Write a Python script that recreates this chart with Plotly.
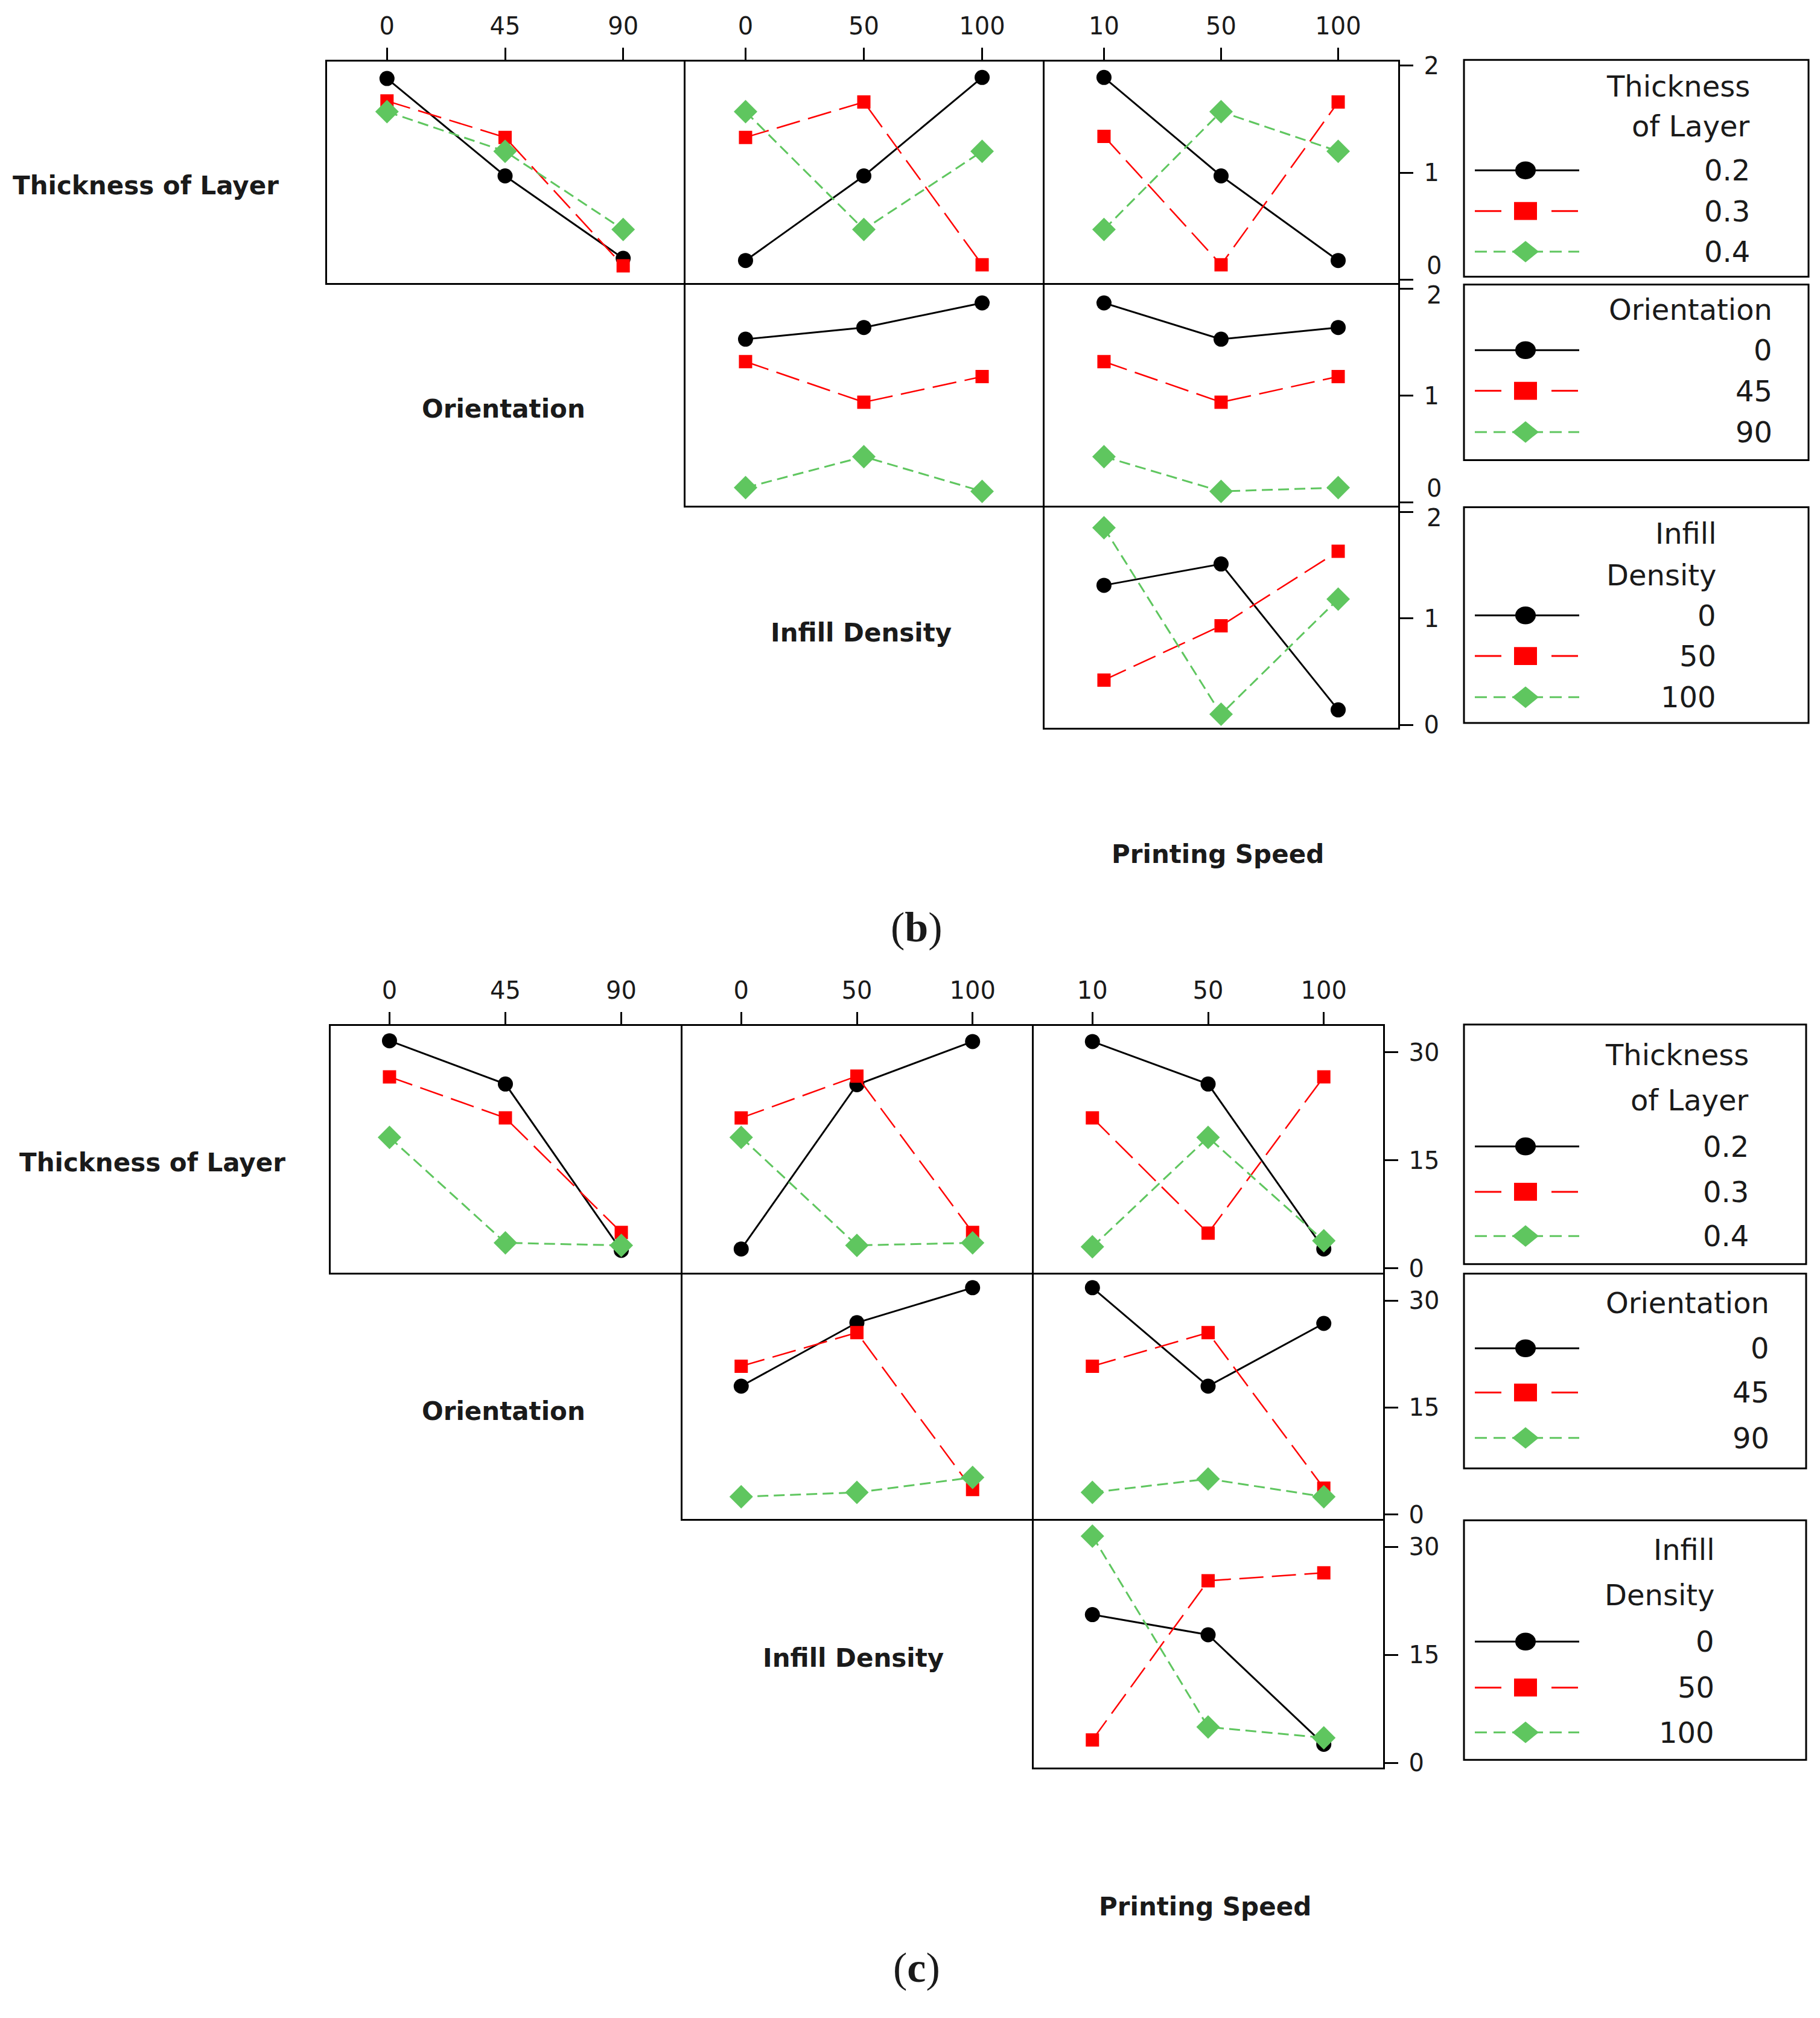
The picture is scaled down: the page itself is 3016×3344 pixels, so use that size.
import plotly.graph_objects as go

PAGE_W, PAGE_H = 3016, 3344
OFF = 8  # default body margin of the html page
W, H = PAGE_W - OFF, PAGE_H - OFF

# ---------------- factor levels (categories / tick labels) ----------------
orientation_levels = ["0", "45", "90"]
infill_levels = ["0", "50", "100"]
speed_levels = ["10", "50", "100"]
thickness_levels = ["0.2", "0.3", "0.4"]

# ---------------- (b) interaction means: one row per line-factor level ----------------
b_thk_by_orient = [[1.88, 0.97, 0.20], [1.67, 1.33, 0.13], [1.57, 1.20, 0.47]]
b_thk_by_infill = [[0.18, 0.97, 1.89], [1.33, 1.66, 0.14], [1.57, 0.47, 1.20]]
b_thk_by_speed = [[1.89, 0.97, 0.18], [1.34, 0.14, 1.66], [0.47, 1.57, 1.20]]
b_ori_by_infill = [[1.53, 1.64, 1.87], [1.32, 0.94, 1.18], [0.14, 0.43, 0.105]]
b_ori_by_speed = [[1.87, 1.53, 1.64], [1.32, 0.94, 1.18], [0.43, 0.105, 0.14]]
b_inf_by_speed = [[1.31, 1.51, 0.14], [0.42, 0.93, 1.63], [1.85, 0.10, 1.18]]
b_y_ticks = [0, 1, 2]

# ---------------- (c) interaction means ----------------
c_thk_by_orient = [[31.6, 25.6, 2.5], [26.6, 20.9, 5.0], [18.2, 3.55, 3.2]]
c_thk_by_infill = [[2.7, 25.5, 31.5], [20.9, 26.7, 5.0], [18.2, 3.2, 3.55]]
c_thk_by_speed = [[31.5, 25.6, 2.7], [20.9, 4.9, 26.6], [3.0, 18.2, 3.85]]
c_ori_by_infill = [[18.0, 26.9, 31.8], [20.8, 25.5, 3.5], [2.5, 3.1, 5.2]]
c_ori_by_speed = [[31.8, 18.0, 26.8], [20.8, 25.5, 3.7], [3.1, 5.0, 2.5]]
c_inf_by_speed = [[20.6, 17.8, 2.6], [3.2, 25.3, 26.4], [31.5, 5.0, 3.5]]
c_y_ticks = [0, 15, 30]

# ---------------- styles ----------------
FONT = "DejaVu Sans"
TXT = "#1a1a1a"
TICK_SIZE = 40
LW = 3
series_colors = ["#000000", "#FF0000", "#5FC65F"]
series_symbols = ["circle", "square", "diamond"]
series_dash = ["solid", "40px,14px", "18px,9px"]
series_width = [3, 2.5, 3]
series_msize = [25, 22, 30]


def px_x(x):
    return (x - OFF) / W


def px_y(y):
    return 1 - (y - OFF) / H


fig = go.Figure()
layout = {}
annotations = []
shapes = []
counter = [0]


def add_panel(xpx, ypx, levels_x, values, yrange, ytickvals, top_ticks, right_ticks,
              moved_labels=None):
    """moved_labels: dict tick value -> vertical pixel shift for crowded tick labels."""
    counter[0] += 1
    i = counter[0]
    xr, yr = f"x{i}", f"y{i}"
    for k, vals in enumerate(values):
        fig.add_trace(go.Scatter(
            x=levels_x, y=vals, xaxis=xr, yaxis=yr, mode="lines+markers",
            line=dict(color=series_colors[k], width=series_width[k], dash=series_dash[k]),
            marker=dict(color=series_colors[k], symbol=series_symbols[k], size=series_msize[k],
                        line=dict(width=0)),
            showlegend=False, hoverinfo="skip"))
    h = LW / 2.0
    layout[f"xaxis{i}"] = dict(
        domain=[px_x(xpx[0] + h), px_x(xpx[1] - h)], anchor=yr, type="category",
        categoryorder="array", categoryarray=levels_x,
        range=[-0.51, 2.51], showline=True, mirror=True, linecolor="black", linewidth=LW,
        showgrid=False, zeroline=False, side="top",
        ticks="outside" if top_ticks else "", ticklen=20, tickwidth=3, tickcolor="black",
        showticklabels=top_ticks, tickfont=dict(family=FONT, size=TICK_SIZE, color=TXT),
        ticklabelstandoff=6, fixedrange=True)
    moved_labels = moved_labels or {}
    ticktext = ["" if v in moved_labels else str(v) for v in ytickvals]
    layout[f"yaxis{i}"] = dict(
        domain=[px_y(ypx[1] - h), px_y(ypx[0] + h)], anchor=xr, range=yrange,
        showline=True, mirror=True, linecolor="black", linewidth=LW,
        showgrid=False, zeroline=False, side="right",
        ticks="outside" if right_ticks else "", ticklen=22, tickwidth=3, tickcolor="black",
        tickvals=ytickvals, ticktext=ticktext,
        showticklabels=right_ticks, tickfont=dict(family=FONT, size=TICK_SIZE, color=TXT),
        ticklabelstandoff=10, fixedrange=True)
    for v, shift in moved_labels.items():
        annotations.append(dict(text=str(v), xref="paper", yref=yr,
                                x=px_x(xpx[1] + 44), y=v, xanchor="left",
                                yanchor="middle", yshift=shift, showarrow=False,
                                font=dict(family=FONT, size=TICK_SIZE, color=TXT)))


def add_label(text, x, y, size=42, bold=True, family=FONT):
    annotations.append(dict(text=f"<b>{text}</b>" if bold else text, xref="paper", yref="paper",
                            x=px_x(x), y=px_y(y), xanchor="center", yanchor="middle",
                            showarrow=False, font=dict(family=family, size=size, color=TXT)))


def add_legend(box, title_lines, title_ys, labels, label_ys, right_x):
    x0, y0, x1, y1 = box
    shapes.append(dict(type="rect", xref="paper", yref="paper", x0=px_x(x0), x1=px_x(x1),
                       y0=px_y(y1), y1=px_y(y0), line=dict(color="black", width=3)))
    for t, ty in zip(title_lines, title_ys):
        annotations.append(dict(text=t, xref="paper", yref="paper", x=px_x(right_x), y=px_y(ty),
                                xanchor="right", yanchor="middle", showarrow=False,
                                font=dict(family=FONT, size=48, color=TXT)))
    lx0, lx1, mc = 2444, 2617, 2528
    for k, (lab, ly) in enumerate(zip(labels, label_ys)):
        annotations.append(dict(text=lab, xref="paper", yref="paper", x=px_x(right_x), y=px_y(ly),
                                xanchor="right", yanchor="middle", showarrow=False,
                                font=dict(family=FONT, size=48, color=TXT)))
        col = series_colors[k]
        if k == 0:
            shapes.append(dict(type="line", xref="paper", yref="paper", x0=px_x(lx0), x1=px_x(lx1),
                               y0=px_y(ly), y1=px_y(ly), line=dict(color=col, width=3)))
            shapes.append(dict(type="circle", xref="paper", yref="paper", x0=px_x(mc - 17),
                               x1=px_x(mc + 17), y0=px_y(ly + 15), y1=px_y(ly - 15),
                               fillcolor=col, line=dict(width=0)))
        elif k == 1:
            for a, b in [(lx0, lx0 + 44), (lx1 - 46, lx1 - 2)]:
                shapes.append(dict(type="line", xref="paper", yref="paper", x0=px_x(a), x1=px_x(b),
                                   y0=px_y(ly), y1=px_y(ly), line=dict(color=col, width=3)))
            shapes.append(dict(type="rect", xref="paper", yref="paper", x0=px_x(mc - 19),
                               x1=px_x(mc + 19), y0=px_y(ly + 15), y1=px_y(ly - 15),
                               fillcolor=col, line=dict(width=0)))
        else:
            shapes.append(dict(type="line", xref="paper", yref="paper", x0=px_x(lx0), x1=px_x(lx1),
                               y0=px_y(ly), y1=px_y(ly), line=dict(color=col, width=3, dash="20px,11px")))
            hw, hh = 22, 18
            path = (f"M {px_x(mc - hw)},{px_y(ly)} L {px_x(mc)},{px_y(ly - hh)} "
                    f"L {px_x(mc + hw)},{px_y(ly)} L {px_x(mc)},{px_y(ly + hh)} Z")
            shapes.append(dict(type="path", xref="paper", yref="paper", path=path,
                               fillcolor=col, line=dict(width=0)))


# ---------------- figure (b) ----------------
bc = [(540, 1134), (1134, 1729), (1729, 2318)]
br = [(85, 459), (459, 832), (832, 1204)]
byr = [-0.03, 2.04]
add_panel(bc[0], br[0], orientation_levels, b_thk_by_orient, byr, b_y_ticks, True, False)
add_panel(bc[1], br[0], infill_levels, b_thk_by_infill, byr, b_y_ticks, True, False)
add_panel(bc[2], br[0], speed_levels, b_thk_by_speed, byr, b_y_ticks, True, True,
          moved_labels={0: 24})
add_panel(bc[1], br[1], infill_levels, b_ori_by_infill, byr, b_y_ticks, False, False)
add_panel(bc[2], br[1], speed_levels, b_ori_by_speed, byr, b_y_ticks, False, True,
          moved_labels={0: 24, 2: -10})
add_panel(bc[2], br[2], speed_levels, b_inf_by_speed, byr, b_y_ticks, False, True,
          moved_labels={2: -10})

add_label("Thickness of Layer", 241, 294)
add_label("Orientation", 834, 668)
add_label("Infill Density", 1427, 1043)
add_label("Printing Speed", 2018, 1414)
add_label("(<b>b</b>)", 1519, 1536, size=70, bold=False, family="Liberation Serif")

add_legend((2426, 84, 2997, 447), ["Thickness", "of Layer"], [128, 195],
           thickness_levels, [269, 337, 405], 2902)
add_legend((2426, 460, 2997, 754), ["Orientation"], [502],
           orientation_levels, [570, 638, 707], 2939)
add_legend((2426, 833, 2997, 1194), ["Infill", "Density"], [877, 947],
           infill_levels, [1014, 1082, 1151], 2846)

# ---------------- figure (c) ----------------
cc = [(546, 1129), (1129, 1711), (1711, 2293)]
cr = [(1700, 2116), (2116, 2528), (2528, 2944)]
cyr = [-0.6, 33.65]
add_panel(cc[0], cr[0], orientation_levels, c_thk_by_orient, cyr, c_y_ticks, True, False)
add_panel(cc[1], cr[0], infill_levels, c_thk_by_infill, cyr, c_y_ticks, True, False)
add_panel(cc[2], cr[0], speed_levels, c_thk_by_speed, cyr, c_y_ticks, True, True)
add_panel(cc[1], cr[1], infill_levels, c_ori_by_infill, cyr, c_y_ticks, False, False)
add_panel(cc[2], cr[1], speed_levels, c_ori_by_speed, cyr, c_y_ticks, False, True)
add_panel(cc[2], cr[2], speed_levels, c_inf_by_speed, cyr, c_y_ticks, False, True)

add_label("Thickness of Layer", 252, 1930)
add_label("Orientation", 834, 2346)
add_label("Infill Density", 1414, 2760)
add_label("Printing Speed", 1997, 3176)
add_label("(<b>c</b>)", 1519, 3278, size=70, bold=False, family="Liberation Serif")

add_legend((2426, 1699, 2993, 2100), ["Thickness", "of Layer"], [1750, 1826],
           thickness_levels, [1903, 1979, 2053], 2900)
add_legend((2426, 2116, 2993, 2442), ["Orientation"], [2165],
           orientation_levels, [2241, 2315, 2391], 2934)
add_legend((2426, 2529, 2993, 2930), ["Infill", "Density"], [2578, 2654],
           infill_levels, [2732, 2809, 2884], 2843)

fig.update_layout(
    width=W, height=H, margin=dict(l=0, r=0, t=0, b=0),
    paper_bgcolor="white", plot_bgcolor="white", showlegend=False,
    annotations=annotations, shapes=shapes, **layout)

fig.write_html("out.html")
